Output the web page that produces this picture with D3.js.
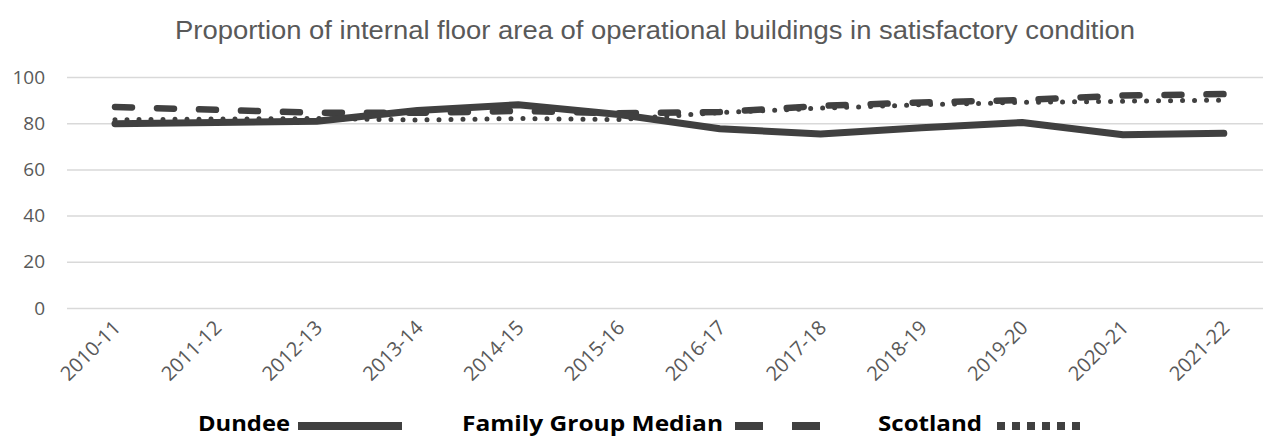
<!DOCTYPE html>
<html>
<head>
<meta charset="utf-8">
<script src="https://cdn.jsdelivr.net/npm/d3@7"></script>
<style>
  body { margin: 0; background: #fff; }
</style>
</head>
<body>
<svg id="chart"></svg>
<script>
const years = ["2010-11", "2011-12", "2012-13", "2013-14", "2014-15", "2015-16",
               "2016-17", "2017-18", "2018-19", "2019-20", "2020-21", "2021-22"];
const dundee = [79.8, 80.3, 80.8, 85.5, 88.0, 83.8, 77.6, 75.3, 78.0, 80.3, 75.0, 75.6];
const familyMedian = [87.0, 85.8, 84.5, 84.5, 85.3, 84.3, 84.8, 87.5, 89.0, 90.0, 92.0, 92.6];
const scotland = [81.5, 81.8, 82.0, 81.4, 82.0, 81.6, 84.6, 86.5, 88.0, 89.0, 89.5, 90.0];
const yTicks = [0, 20, 40, 60, 80, 100];

const title = "Proportion of internal floor area of operational buildings in satisfactory condition";

const width = 1263;
const height = 438;
const ink = "#404040";

const svg = d3.select("#chart").attr("width", width).attr("height", height);

const x = d3.scalePoint()
    .domain(years)
    .range([64.6, 1274.2])
    .padding(0.5);

const y = d3.scaleLinear()
    .domain([0, 100])
    .range([308, 77]);

// title
svg.append("text")
    .attr("x", 655)
    .attr("y", 39)
    .attr("text-anchor", "middle")
    .attr("font-family", "'Liberation Sans', Arial, sans-serif")
    .attr("font-size", "25px")
    .attr("fill", "#595959")
    .attr("textLength", 960)
    .attr("lengthAdjust", "spacingAndGlyphs")
    .text(title);

// gridlines + y labels
const yAxis = svg.append("g")
    .attr("transform", "translate(67,0)")
    .call(d3.axisLeft(y).tickValues(yTicks).tickSize(-1200).tickPadding(22));
yAxis.select(".domain").remove();
yAxis.selectAll(".tick line").attr("stroke", "#d9d9d9").attr("stroke-width", 1.5);
yAxis.selectAll(".tick text")
    .attr("font-family", "'Open Sans', sans-serif")
    .attr("font-size", "19px")
    .attr("fill", "#595959");

// x labels
svg.append("g")
    .selectAll("text")
    .data(years)
    .join("text")
    .attr("transform", d => `translate(${x(d) + 2},${324}) rotate(-45)`)
    .attr("text-anchor", "end")
    .attr("dy", "0.35em")
    .attr("font-family", "'Open Sans', sans-serif")
    .attr("font-size", "20px")
    .attr("fill", "#595959")
    .text(d => d);

const line = d3.line()
    .x((d, i) => x(years[i]))
    .y(d => y(d));

svg.append("path")
    .datum(scotland)
    .attr("fill", "none")
    .attr("stroke", ink)
    .attr("stroke-width", 5)
    .attr("stroke-linecap", "round")
    .attr("stroke-dasharray", "0,12")
    .attr("d", line);

svg.append("path")
    .datum(familyMedian)
    .attr("fill", "none")
    .attr("stroke", ink)
    .attr("stroke-width", 6.5)
    .attr("stroke-linecap", "round")
    .attr("stroke-dasharray", "17,25")
    .attr("d", line);

svg.append("path")
    .datum(dundee)
    .attr("fill", "none")
    .attr("stroke", ink)
    .attr("stroke-width", 7)
    .attr("stroke-linecap", "round")
    .attr("stroke-linejoin", "round")
    .attr("d", line);

// legend
const legend = svg.append("g")
    .attr("font-family", "'Open Sans', sans-serif")
    .attr("font-weight", "bold")
    .attr("font-size", "22px")
    .attr("fill", "#000");

legend.append("text").attr("x", 198).attr("y", 431)
    .attr("textLength", 92).attr("lengthAdjust", "spacingAndGlyphs")
    .text("Dundee");
legend.append("line")
    .attr("x1", 298).attr("x2", 402).attr("y1", 426).attr("y2", 426)
    .attr("stroke", ink).attr("stroke-width", 8);

legend.append("text").attr("x", 462).attr("y", 431)
    .attr("textLength", 261).attr("lengthAdjust", "spacingAndGlyphs")
    .text("Family Group Median");
legend.append("line")
    .attr("x1", 735).attr("x2", 822).attr("y1", 426).attr("y2", 426)
    .attr("stroke", ink).attr("stroke-width", 8)
    .attr("stroke-dasharray", "28,29");

legend.append("text").attr("x", 878).attr("y", 431)
    .attr("textLength", 104).attr("lengthAdjust", "spacingAndGlyphs")
    .text("Scotland");
legend.append("line")
    .attr("x1", 997).attr("x2", 1087).attr("y1", 426).attr("y2", 426)
    .attr("stroke", ink).attr("stroke-width", 8)
    .attr("stroke-dasharray", "8,7");
</script>
</body>
</html>
